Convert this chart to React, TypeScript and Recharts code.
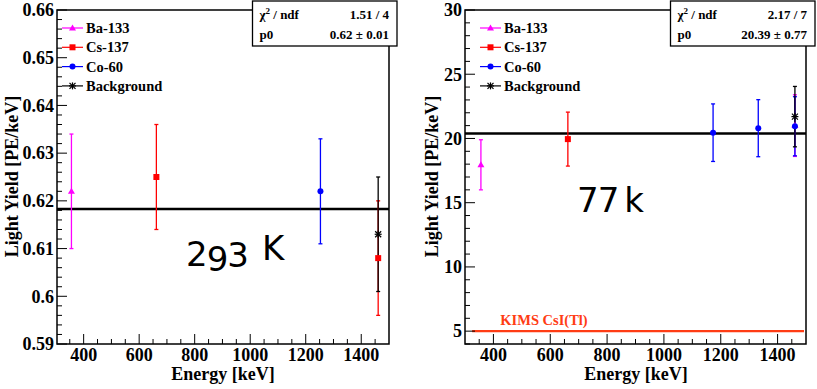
import React from 'react';
import { ScatterChart, Scatter, XAxis, YAxis, ErrorBar, ReferenceLine, ReferenceArea } from 'recharts';

// ---- 293 K panel ----
const ba293 = [{ x: 356, y: 0.622, err: 0.012 }];
const cs293 = [{ x: 662, y: 0.625, err: 0.011 }, { x: 1461, y: 0.608, err: 0.012 }];
const co293 = [{ x: 1253, y: 0.622, err: 0.011 }];
const bg293 = [{ x: 1461, y: 0.613, err: 0.012 }];
const fit293 = 0.6183;
const yLabels293 = [0.59, 0.6, 0.61, 0.62, 0.63, 0.64, 0.65, 0.66];
const yTicks293 = [
  0.59, 0.592, 0.594, 0.596, 0.598, 0.6, 0.602, 0.604, 0.606, 0.608,
  0.61, 0.612, 0.614, 0.616, 0.618, 0.62, 0.622, 0.624, 0.626, 0.628,
  0.63, 0.632, 0.634, 0.636, 0.638, 0.64, 0.642, 0.644, 0.646, 0.648,
  0.65, 0.652, 0.654, 0.656, 0.658, 0.66,
];

// ---- 77 K panel ----
const ba77 = [{ x: 356, y: 17.95, err: 1.95 }, { x: 1461, y: 21.0, err: 2.4 }];
const cs77 = [{ x: 662, y: 19.95, err: 2.1 }];
const co77 = [{ x: 1173, y: 20.45, err: 2.24 }, { x: 1332, y: 20.8, err: 2.22 }, { x: 1461, y: 20.95, err: 2.3 }];
const bg77 = [{ x: 1461, y: 21.7, err: 2.35 }];
const fit77 = 20.39;
const kims = 5;
const yLabels77 = [5, 10, 15, 20, 25, 30];
const yTicks77 = [4, 5, 6, 7, 8, 9, 10, 11, 12, 13, 14, 15, 16, 17, 18, 19, 20, 21, 22, 23, 24, 25, 26, 27, 28, 29, 30];

// shared x axis
const xLabels = [400, 600, 800, 1000, 1200, 1400];
const xTicks = [350, 400, 450, 500, 550, 600, 650, 700, 750, 800, 850, 900, 950, 1000, 1050, 1100, 1150, 1200, 1250, 1300, 1350, 1400, 1450];

const serif = '"Liberation Serif", "Times New Roman", serif';

const isLabel = (labels: number[], v: number) => labels.some(l => Math.abs(l - v) < 1e-9);

const Marker = ({ kind, cx, cy, color }: { kind: string; cx: number; cy: number; color: string }) => {
  if (kind === 'tri') return <polygon points={`${cx},${cy - 3.5} ${cx - 3.5},${cy + 2.5} ${cx + 3.5},${cy + 2.5}`} fill={color} />;
  if (kind === 'sq') return <rect x={cx - 3} y={cy - 3} width={6} height={6} fill={color} />;
  if (kind === 'circ') return <circle cx={cx} cy={cy} r={3} fill={color} />;
  return (
    <g stroke={color} strokeWidth={1.2}>
      <line x1={cx - 3} y1={cy - 3} x2={cx + 3} y2={cy + 3} />
      <line x1={cx - 3} y1={cy + 3} x2={cx + 3} y2={cy - 3} />
      <line x1={cx} y1={cy - 3.5} x2={cx} y2={cy + 3.5} />
      <line x1={cx - 3.5} y1={cy} x2={cx + 3.5} y2={cy} />
    </g>
  );
};

const series = [
  { name: 'Ba-133', kind: 'tri', color: '#ff00ff' },
  { name: 'Cs-137', kind: 'sq', color: '#ff0000' },
  { name: 'Co-60', kind: 'circ', color: '#0000ff' },
  { name: 'Background', kind: 'star', color: '#000000' },
];

const YTick = ({ x, y, payload, labels, fmt }: any) => {
  const major = isLabel(labels, payload.value);
  return (
    <g>
      <line x1={x} x2={x + (major ? 10 : 5)} y1={y} y2={y} stroke="#000" strokeWidth={1} />
      {major && (
        <text x={x - 3} y={y} dy="0.35em" textAnchor="end" fontFamily={serif} fontWeight="bold" fontSize={18} fill="#000">
          {fmt(payload.value)}
        </text>
      )}
    </g>
  );
};

const XTick = ({ x, y, payload }: any) => {
  const major = isLabel(xLabels, payload.value);
  return (
    <g>
      <line x1={x} x2={x} y1={y} y2={y - (major ? 10 : 5)} stroke="#000" strokeWidth={1} />
      {major && (
        <text x={x} y={y + 17} textAnchor="middle" fontFamily={serif} fontWeight="bold" fontSize={18} fill="#000">
          {payload.value}
        </text>
      )}
    </g>
  );
};

interface PanelProps {
  width: number;
  marginRight: number;
  xDomain: [number, number];
  yDomain: [number, number];
  yTicks: number[];
  yLabels: number[];
  fmt: (v: number) => string;
  data: { x: number; y: number; err: number }[][];
  fit: number;
  kimsLine?: number;
}

const Panel: React.FC<PanelProps> = ({ width, marginRight, xDomain, yDomain, yTicks, yLabels, fmt, data, fit, kimsLine }) => (
  <ScatterChart width={width} height={389} margin={{ top: 10, right: marginRight, left: 7, bottom: 10 }}>
    <XAxis
      type="number"
      dataKey="x"
      domain={xDomain}
      allowDataOverflow
      ticks={xTicks}
      interval={0}
      tickSize={0}
      tickMargin={0}
      axisLine={false}
      height={35}
      tick={(p: any) => <XTick {...p} />}
    />
    <YAxis
      type="number"
      dataKey="y"
      domain={yDomain}
      allowDataOverflow
      ticks={yTicks}
      interval={0}
      tickSize={0}
      tickMargin={0}
      axisLine={false}
      width={50}
      tick={(p: any) => <YTick {...p} labels={yLabels} fmt={fmt} />}
    />
    <ReferenceArea x1={xDomain[0]} x2={xDomain[1]} y1={yDomain[0]} y2={yDomain[1]} fill="none" stroke="#000" strokeWidth={1.5} ifOverflow="visible" />
    {kimsLine !== undefined && (
      <ReferenceLine segment={[{ x: 325, y: kimsLine }, { x: 1493, y: kimsLine }]} stroke="#ff3c14" strokeWidth={2.2} />
    )}
    <ReferenceLine y={fit} stroke="#000" strokeWidth={2.5} />
    {series.map((s, i) => (
      <Scatter
        key={s.name}
        data={data[i]}
        dataKey="y"
        isAnimationActive={false}
        shape={(p: any) => <Marker kind={s.kind} cx={p.cx} cy={p.cy} color={s.color} />}
      >
        <ErrorBar dataKey="err" direction="y" width={2} stroke={s.color} strokeWidth={1.3} isAnimationActive={false} />
      </Scatter>
    ))}
  </ScatterChart>
);

const LegendBox = ({ x0 }: { x0: number }) => (
  <g>
    {series.map((s, i) => {
      const cy = 28 + i * 19.3;
      return (
        <g key={s.name}>
          <line x1={x0} x2={x0 + 21} y1={cy} y2={cy} stroke={s.color} strokeWidth={1.2} />
          <Marker kind={s.kind} cx={x0 + 10.5} cy={cy} color={s.color} />
          <text x={x0 + 24} y={cy + 5} fontFamily={serif} fontWeight="bold" fontSize={14.5} fill="#000">{s.name}</text>
        </g>
      );
    })}
  </g>
);

const StatBox = ({ x0, x1, chi, p0 }: { x0: number; x1: number; chi: string; p0: string }) => (
  <g fontFamily={serif} fontWeight="bold" fontSize={13} fill="#000">
    <rect x={x0} y={1} width={x1 - x0} height={45} fill="#fff" stroke="#000" strokeWidth={1.3} />
    <text x={x0 + 7} y={19}>χ<tspan fontSize={9} dy={-5}>2</tspan><tspan dy={5}> / ndf</tspan></text>
    <text x={x1 - 8} y={19} textAnchor="end">{chi}</text>
    <text x={x0 + 7} y={39}>p0</text>
    <text x={x1 - 8} y={39} textAnchor="end">{p0}</text>
  </g>
);

const hand = '"DejaVu Sans", sans-serif';

export default function App() {
  return (
    <div style={{ position: 'absolute', left: 0, top: 0, width: 817, height: 389, background: '#fff' }}>
      <div style={{ position: 'absolute', left: 0, top: 0 }}>
        <Panel
          width={408}
          marginRight={19}
          xDomain={[304, 1500]}
          yDomain={[0.59, 0.66]}
          yTicks={yTicks293}
          yLabels={yLabels293}
          fmt={v => String(Number(v.toFixed(3)))}
          data={[ba293, cs293, co293, bg293]}
          fit={fit293}
        />
      </div>
      <div style={{ position: 'absolute', left: 408, top: 0 }}>
        <Panel
          width={409}
          marginRight={11}
          xDomain={[300, 1500]}
          yDomain={[4, 30]}
          yTicks={yTicks77}
          yLabels={yLabels77}
          fmt={v => String(v)}
          data={[ba77, cs77, co77, bg77]}
          fit={fit77}
          kimsLine={kims}
        />
      </div>
      <svg width={817} height={389} style={{ position: 'absolute', left: 0, top: 0, pointerEvents: 'none' }}>
        <text transform="translate(18,176.5) rotate(-90)" textAnchor="middle" fontFamily={serif} fontWeight="bold" fontSize={18}>Light Yield [PE/keV]</text>
        <text transform="translate(438,176.5) rotate(-90)" textAnchor="middle" fontFamily={serif} fontWeight="bold" fontSize={18}>Light Yield [PE/keV]</text>
        <text x={223} y={380} textAnchor="middle" fontFamily={serif} fontWeight="bold" fontSize={18}>Energy [keV]</text>
        <text x={636} y={380} textAnchor="middle" fontFamily={serif} fontWeight="bold" fontSize={18}>Energy [keV]</text>
        <LegendBox x0={62} />
        <LegendBox x0={480} />
        <StatBox x0={252.5} x1={397} chi="1.51 / 4" p0="0.62  ± 0.01" />
        <StatBox x0={670.5} x1={815} chi="2.17 / 7" p0="20.39  ± 0.77" />
        <text x={544} y={325} textAnchor="middle" fontFamily={serif} fontWeight="bold" fontSize={14.5} fill="#ff3c14">KIMS CsI(Tl)</text>
        <text x={186} y={266} fontFamily={hand} fontSize={34} fill="#000" letterSpacing={-1}>
          2<tspan dy={5}>9</tspan><tspan dy={-4}>3</tspan><tspan dx={14} dy={-7}>K</tspan>
        </text>
        <text x={577} y={212} fontFamily={hand} fontSize={34} fill="#000" letterSpacing={-1}>
          77<tspan dx={6}>k</tspan>
        </text>
      </svg>
    </div>
  );
}
